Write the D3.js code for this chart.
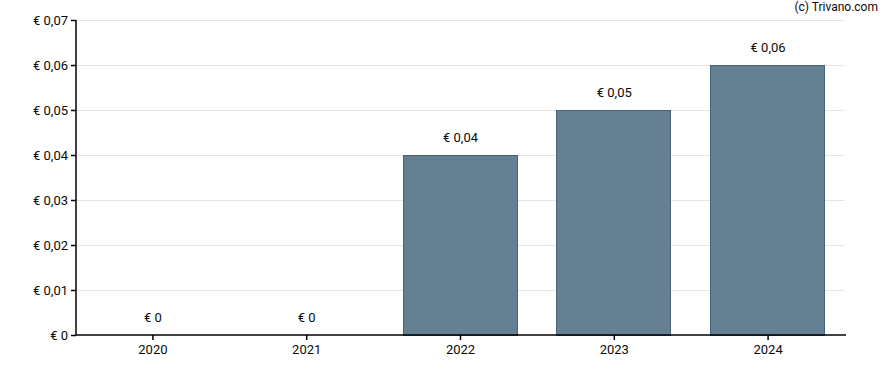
<!DOCTYPE html>
<html>
<head>
<meta charset="utf-8">
<script src="https://cdn.jsdelivr.net/npm/d3@7"></script>
<style>
  body { margin: 0; background: #fff; }
  svg text { font-family: Roboto, "Liberation Sans", sans-serif; font-size: 13px; fill: #0a0a0a; }
</style>
</head>
<body>
<svg id="chart" width="888" height="370"></svg>
<script>
"use strict";

// gegevens
var jaren = ["2020", "2021", "2022", "2023", "2024"];
var dividend = [0, 0, 0.04, 0.05, 0.06];
var yTicks = [0, 0.01, 0.02, 0.03, 0.04, 0.05, 0.06, 0.07];

var marge = { top: 20, right: 43, bottom: 35, left: 76 };
var breedte = 888 - marge.left - marge.right;
var hoogte = 370 - marge.top - marge.bottom;

var euro = function (v) {
    if (v === 0) return "€ 0";
    return "€ " + v.toFixed(2).replace(".", ",");
};

var svg = d3.select("#chart");
var g = svg.append("g").attr("transform", "translate(" + marge.left + "," + marge.top + ")");

var x = d3.scaleBand().domain(jaren).range([0, breedte]).paddingInner(0.26).paddingOuter(0.13);
var y = d3.scaleLinear().domain([0, 0.07]).range([hoogte, 0]);

// rasterlijnen
g.selectAll("line.raster")
    .data(yTicks.slice(1))
    .enter().append("line")
    .attr("class", "raster")
    .attr("x1", 0).attr("x2", breedte)
    .attr("y1", function (d) { return Math.round(y(d)) + 0.5; })
    .attr("y2", function (d) { return Math.round(y(d)) + 0.5; })
    .attr("stroke", "#e6e6e6").attr("stroke-width", 1);

// staven
g.selectAll("rect.staaf")
    .data(dividend)
    .enter().append("rect")
    .attr("class", "staaf")
    .attr("x", function (d, i) { return Math.round(x(jaren[i])) - 0.5; })
    .attr("y", function (d) { return Math.round(y(d)) + 0.5; })
    .attr("width", Math.round(x.bandwidth()))
    .attr("height", function (d) { return Math.max(0, Math.round(hoogte - y(d))); })
    .attr("fill", "#657f93")
    .attr("stroke", "#4a6274")
    .attr("stroke-width", 1)
    .style("display", function (d) { return d > 0 ? null : "none"; });

// waardelabels
g.selectAll("text.waarde")
    .data(dividend)
    .enter().append("text")
    .attr("class", "waarde")
    .attr("x", function (d, i) { return x(jaren[i]) + x.bandwidth() / 2; })
    .attr("y", function (d) { return y(d) - 13; })
    .attr("text-anchor", "middle")
    .text(euro);

// assen
var yAs = g.append("g")
    .call(d3.axisLeft(y).tickValues(yTicks).tickSize(5).tickPadding(3).tickFormat(euro));
var xAs = g.append("g")
    .attr("transform", "translate(0," + hoogte + ")")
    .call(d3.axisBottom(x).tickSize(5).tickPadding(5).tickSizeOuter(0));

[yAs, xAs].forEach(function (as) {
    as.select(".domain").attr("stroke", "#000").attr("stroke-width", 1.5);
    as.selectAll(".tick line").attr("stroke", "#000").attr("stroke-width", 1.5);
    as.selectAll(".tick text").attr("font-family", null).attr("font-size", null).style("fill", "#0a0a0a");
});
yAs.select(".domain").attr("d", "M0," + hoogte + "V0");
xAs.select(".domain").attr("d", "M0,0H" + (breedte + 1));

// bron
svg.append("text")
    .attr("x", 878).attr("y", 11)
    .attr("text-anchor", "end")
    .style("font-size", "12px")
    .text("(c) Trivano.com");
</script>
</body>
</html>
